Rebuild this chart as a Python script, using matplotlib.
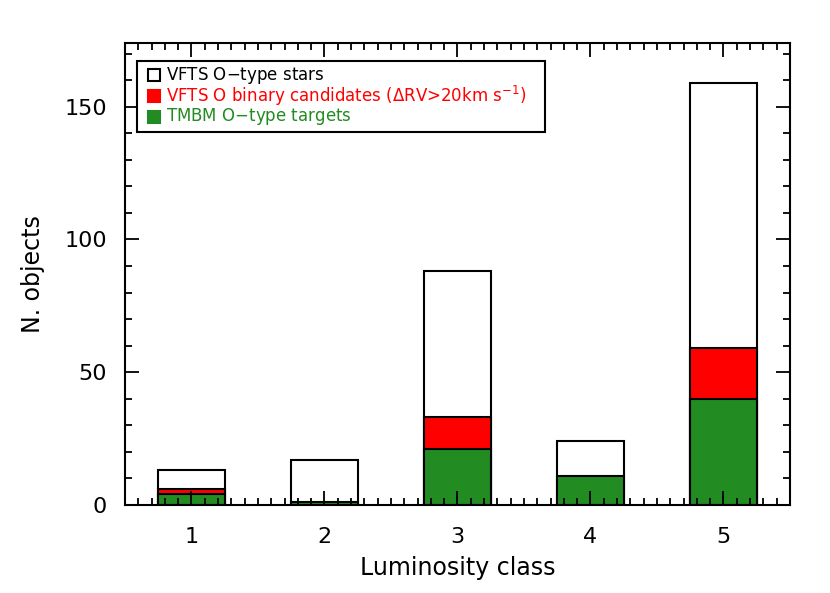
import numpy as np
import matplotlib
matplotlib.use("Agg")
import matplotlib.pyplot as plt
from matplotlib.patches import Rectangle
from matplotlib.ticker import MultipleLocator

# luminosity classes and counts
classes = [1, 2, 3, 4, 5]
vfts_total = [13, 17, 88, 24, 159]
vfts_binary = [6, 0, 33, 0, 59]
tmbm_targets = [4, 1, 21, 11, 40]

labels = ["VFTS O$-$type stars",
          r"VFTS O binary candidates ($\Delta$RV>20km s$^{-1}$)",
          "TMBM O$-$type targets"]
green = "#228b22"

plt.rcParams["font.family"] = ["DejaVu Sans"]

fig = plt.figure(figsize=(8.3, 5.93), dpi=100)
ax = fig.add_axes([0.1506, 0.1484, 0.8012, 0.7791])

w = 0.5
ax.bar(classes, vfts_total, width=w, color="white", edgecolor="black", linewidth=1.5)
ax.bar(classes, vfts_binary, width=w, color="red", edgecolor="black", linewidth=1.5)
ax.bar(classes, tmbm_targets, width=w, color=green, edgecolor="black", linewidth=1.5)

ax.set_xlim(0.5, 5.5)
ax.set_ylim(0, 174)
ax.xaxis.set_major_locator(MultipleLocator(1))
ax.xaxis.set_minor_locator(MultipleLocator(0.1))
ax.yaxis.set_major_locator(MultipleLocator(50))
ax.yaxis.set_minor_locator(MultipleLocator(10))
ax.tick_params(which="both", direction="in", top=True, right=True, width=1.3)
ax.tick_params(which="major", length=10, labelsize=16)
ax.tick_params(axis="x", which="major", pad=16)
ax.tick_params(axis="y", which="major", pad=13)
ax.tick_params(which="minor", length=5)
for s in ax.spines.values():
    s.set_linewidth(1.5)

ax.set_xlabel("Luminosity class", fontsize=17, labelpad=6)
ax.set_ylabel("N. objects", fontsize=17, labelpad=14)

# legend box drawn like the IDL one
leg_box = Rectangle((0.018, 0.807), 0.614, 0.153, transform=ax.transAxes,
                    facecolor="white", edgecolor="black", linewidth=1.5, zorder=5)
ax.add_patch(leg_box)
cols = ["black", "red", green]
faces = ["white", "red", green]
for i in range(3):
    y = 0.93 - i * 0.045
    ax.plot([0.043], [y], marker="s", markersize=8, markerfacecolor=faces[i],
            markeredgecolor="black" if i == 0 else cols[i], markeredgewidth=1.5,
            transform=ax.transAxes, zorder=6, clip_on=False)
    ax.text(0.061, y, labels[i], color=cols[i], fontsize=12, va="center",
            transform=ax.transAxes, zorder=6)

fig.savefig("out.png", dpi=100)
